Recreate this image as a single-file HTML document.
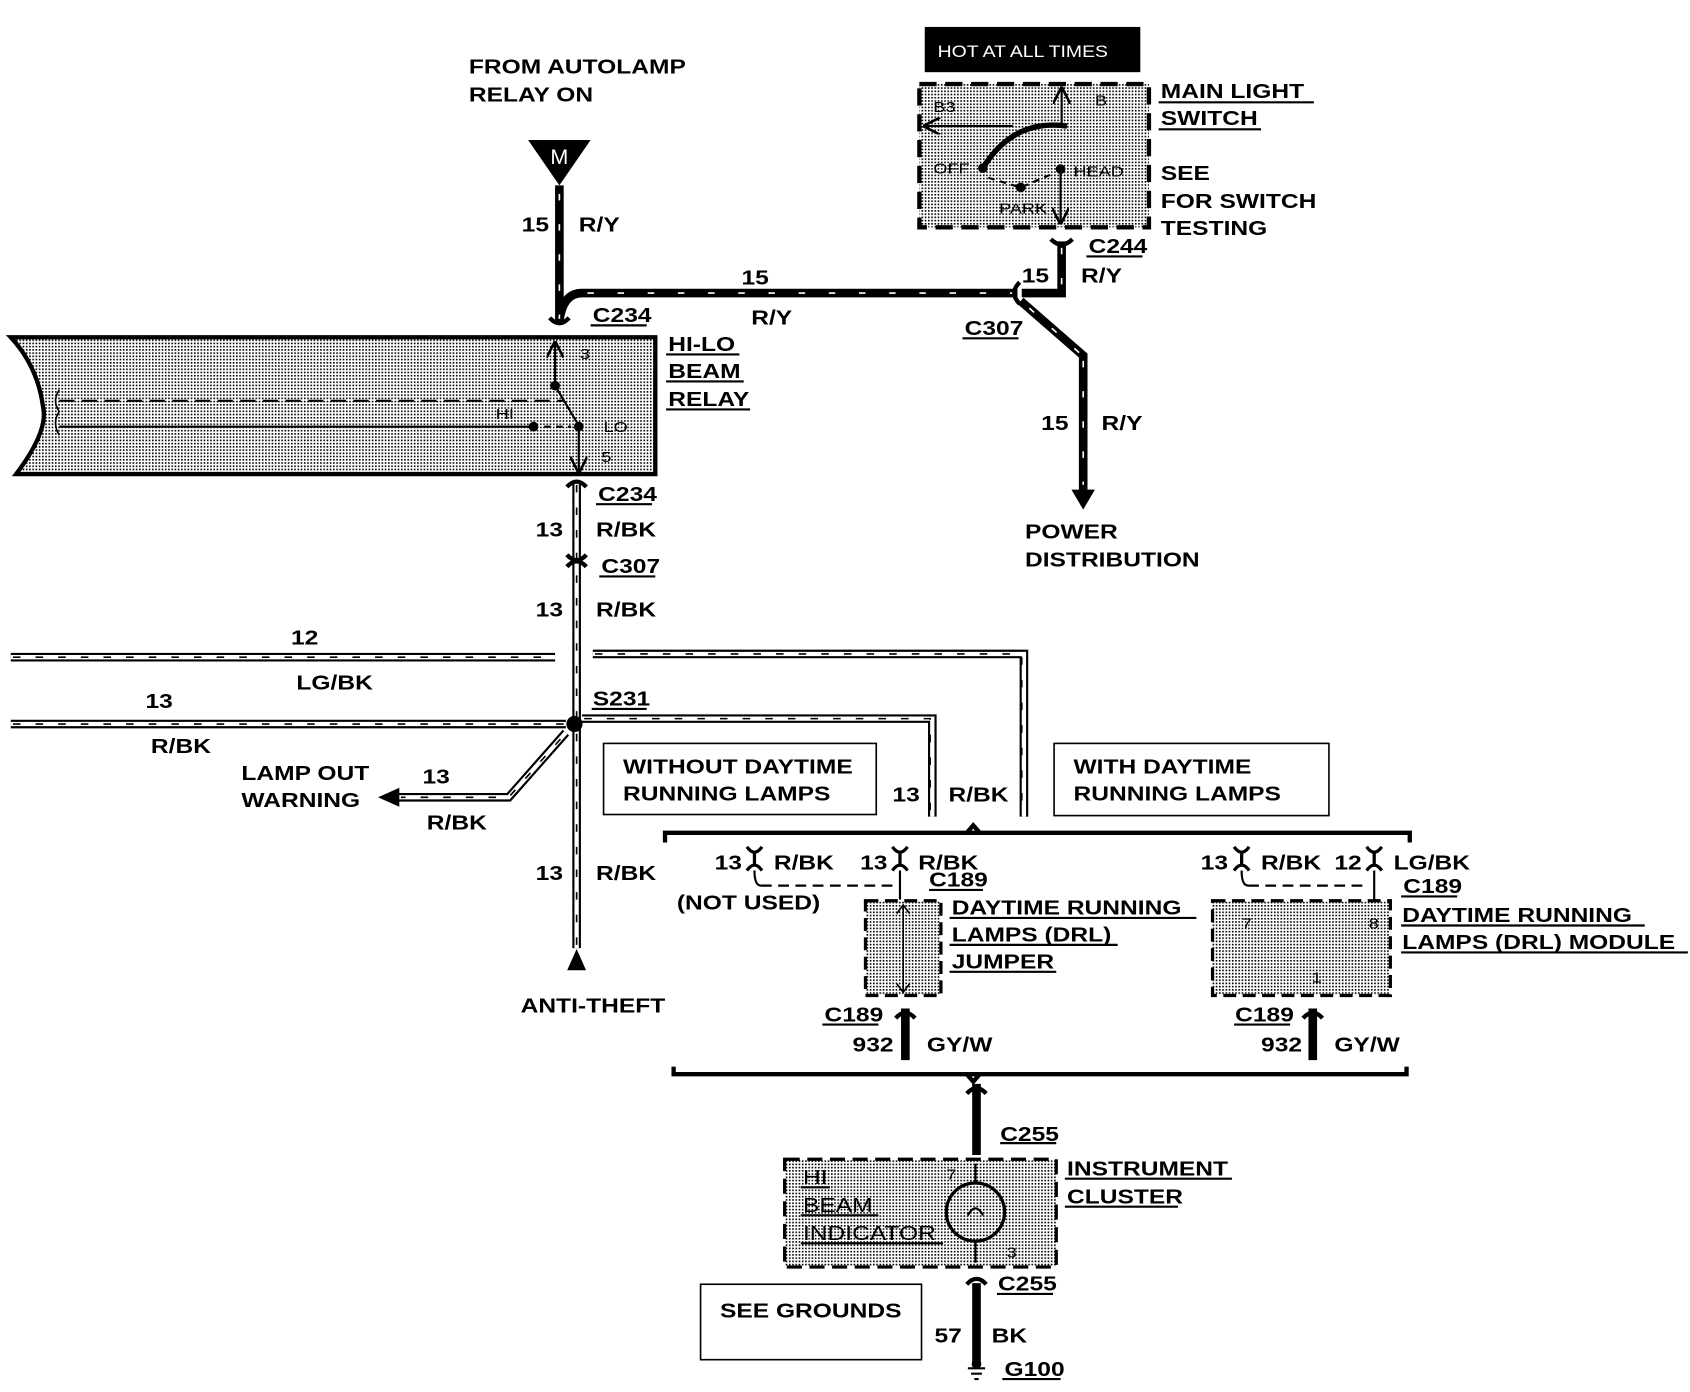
<!DOCTYPE html>
<html><head><meta charset="utf-8"><style>
html,body{margin:0;padding:0;background:#fff;}
svg{display:block;}
text{font-family:"Liberation Sans",sans-serif;font-weight:bold;font-size:19px;fill:#000;transform-box:fill-box;transform-origin:left center;transform:scaleX(1.2);}
.s{font-size:14px;font-weight:normal;}
.n{transform:none;}
</style></head><body>
<svg width="1690" height="1392" viewBox="0 0 1568 1292" preserveAspectRatio="none" xmlns="http://www.w3.org/2000/svg">
<defs>
<pattern id="st" width="3" height="3" patternUnits="userSpaceOnUse"><rect width="3" height="3" fill="#fff"/><rect width="1.5" height="1.5" fill="#000"/></pattern>
<marker id="ah" viewBox="0 0 10 10" refX="9" refY="5" markerWidth="8" markerHeight="8" orient="auto"><path d="M0,0L10,5L0,10" fill="none" stroke="#000" stroke-width="1.5"/></marker>
</defs>
<g fill="none" stroke="#000">
<g stroke-width="8" stroke-linecap="square">
<path d="M519,176 V298 Q522,272 540,272 H940"/>
<path d="M985,228 V272 H952"/>
<path d="M950,282 L1005,330 V455"/>
<path d="M906,1010 V1068"/>
<path d="M906,1195 V1262"/>
<path d="M840,940 V980"/>
<path d="M1218,940 V980"/>
</g>
<g stroke="#fff" stroke-width="1.5" stroke-dasharray="6 22">
<path d="M519,180 V296"/><path d="M545,272 H940"/><path d="M985,230 V270"/><path d="M1005,335 V450"/><path d="M955,286 L1002,328"/>
</g>
<path d="M995,455 L1005,472 L1015,455 Z" fill="#000"/>
<g stroke-width="8"><path d="M535,446 V880"/><path d="M10,610 H515"/><path d="M550,607 H950 V758"/><path d="M10,672 H525"/><path d="M540,667 H865 V758"/><path d="M525,680 L472,740 H370"/></g>
<g stroke="#fff" stroke-width="4"><path d="M535,446 V880"/><path d="M10,610 H515"/><path d="M550,607 H950 V758"/><path d="M10,672 H525"/><path d="M540,667 H865 V758"/><path d="M525,680 L472,740 H370"/></g>
<g stroke-width="1.5" stroke-dasharray="7 14"><path d="M535,450 V878"/><path d="M12,610 H515"/><path d="M552,607 H948 V756"/><path d="M12,672 H525"/><path d="M542,667 H863 V756"/><path d="M520,686 L472,740 H372"/></g>
<path d="M370,732 L352,740 L370,748 Z" fill="#000"/>
<path d="M527,900 L535,882 L543,900 Z" fill="#000"/>
<circle cx="533" cy="672" r="7" fill="#000"/>
<g stroke-width="4"><path d="M510,295 Q519,305 528,295"/><path d="M526,452 Q535,442 544,452"/><path d="M526,515 Q535,525 544,515"/><path d="M526,526 Q535,516 544,526"/><path d="M946,262 Q936,272 946,282"/><path d="M975,222 Q985,232 995,222"/>
<path d="M831,945 Q840,935 849,945"/><path d="M1209,945 Q1218,935 1227,945"/><path d="M897,1015 Q906,1005 915,1015"/><path d="M897,1192 Q906,1182 915,1192"/></g>
<g stroke-width="3"><path d="M693,786 Q700,796 707,786 M700,790 V803 M693,808 Q700,798 707,808"/><path d="M828,786 Q835,796 842,786 M835,790 V803 M828,808 Q835,798 842,808"/><path d="M1145,786 Q1152,796 1159,786 M1152,790 V803 M1145,808 Q1152,798 1159,808"/><path d="M1268,786 Q1275,796 1282,786 M1275,790 V803 M1268,808 Q1275,798 1282,808"/></g>
<path d="M706,822 H830 M1158,822 H1270" stroke-width="2" stroke-dasharray="10 6"/>
<path d="M700,808 Q700,822 706,822 M835,808 V835 M1152,808 Q1152,822 1158,822 M1275,808 V835" stroke-width="2"/>
<path d="M617,782 V773 H1308 V782 M897,773 L903,766 L909,773" stroke-width="4"/>
<path d="M625,990 V997 H1305 V990 M897,997 L903,1004 L909,997" stroke-width="4"/>
<path d="M10,313 H608 V440 H15 Q45,400 40,378 Q35,340 10,313 Z" fill="url(#st)" stroke-width="4"/>
<path d="M515,358 V318" stroke-width="2" marker-end="url(#ah)"/>
<path d="M515,358 L537,395 V438" stroke-width="2" marker-end="url(#ah)"/>
<path d="M55,372 H522" stroke-width="2" stroke-dasharray="14 7"/>
<path d="M55,396 H495" stroke-width="2"/>
<path d="M505,396 H530" stroke-width="2" stroke-dasharray="6 5"/>
<path d="M55,362 Q48,372 55,382 Q48,392 55,404" stroke-width="1.5"/>
<circle cx="515" cy="358" r="4" fill="#000"/><circle cx="537" cy="396" r="4" fill="#000"/><circle cx="495" cy="396" r="4" fill="#000"/>
<rect x="853" y="78" width="213" height="133" fill="url(#st)" stroke-width="4" stroke-dasharray="16 8"/>
<path d="M985,117 V82" stroke-width="2" marker-end="url(#ah)"/>
<path d="M940,117 H858" stroke-width="2" marker-end="url(#ah)"/>
<path d="M912,156 Q940,110 990,117" stroke-width="5"/>
<path d="M917,165 L947,174 L975,162" stroke-width="2" stroke-dasharray="6 5"/>
<path d="M984,157 V207" stroke-width="2" marker-end="url(#ah)"/>
<circle cx="912" cy="156" r="4" fill="#000"/><circle cx="984" cy="157" r="4" fill="#000"/><circle cx="947" cy="174" r="4" fill="#000"/>
<rect x="803" y="836" width="70" height="88" fill="url(#st)" stroke-width="3" stroke-dasharray="12 6"/>
<path d="M838,840 V921" stroke-width="1.5"/><path d="M832,848 L838,840 L844,848 M832,913 L838,921 L844,913" stroke-width="1.5"/>
<rect x="1125" y="836" width="165" height="88" fill="url(#st)" stroke-width="3" stroke-dasharray="12 6"/>
<rect x="728" y="1076" width="252" height="100" fill="url(#st)" stroke-width="3" stroke-dasharray="14 7"/>
<circle cx="905" cy="1125" r="27" stroke-width="3"/>
<path d="M905,1098 V1080 M905,1152 V1172" stroke-width="2"/>
<path d="M898,1128 Q905,1115 912,1128" stroke-width="2"/>
<rect x="560" y="690" width="253" height="66" stroke-width="1.5"/>
<rect x="978" y="690" width="255" height="67" stroke-width="1.5"/>
<rect x="650" y="1192" width="205" height="70" stroke-width="1.5"/>
<path d="M898,1270 H914 M901,1275 H911 M904,1280 H908" stroke-width="2"/>
<circle cx="906" cy="1266" r="4" fill="#000"/>
<g stroke-width="2"><path d="M548,302 H600 M893,314 H945 M1008,238 H1060 M553,468 H605 M556,535 H608 M549,658 H600 M618,329 H686 M618,354 H690 M618,380 H696 M1075,95 H1219 M1075,120 H1170 M862,826 H912 M1300,832 H1352 M881,852 H1110 M881,877 H1037 M881,902 H980 M1300,859 H1526 M1300,884 H1566 M763,951 H815 M1145,951 H1197 M928,1061 H980 M925,1201 H977 M930,1280 H984 M743,1102 H770 M743,1128 H815 M743,1154 H875 M988,1094 H1143 M988,1120 H1093"/></g>
</g>
<path d="M490,130 H548 L519,172 Z" fill="#000"/>
<text x="519" y="152" text-anchor="middle" class="n" style="fill:#fff;font-weight:normal;font-size:20px">M</text>
<rect x="858" y="25" width="200" height="42" fill="#000"/>
<text x="870" y="53" class="s" style="fill:#fff;font-size:15px">HOT AT ALL TIMES</text>
<text x="435" y="68">FROM AUTOLAMP</text><text x="435" y="94">RELAY ON</text>
<text x="484" y="215">15</text><text x="537" y="215">R/Y</text>
<text x="688" y="264">15</text><text x="697" y="301">R/Y</text>
<text x="550" y="299">C234</text><text x="895" y="311">C307</text>
<text x="948" y="262">15</text><text x="1003" y="262">R/Y</text><text x="1010" y="235">C244</text>
<text x="966" y="399">15</text><text x="1022" y="399">R/Y</text>
<text x="951" y="500">POWER</text><text x="951" y="526">DISTRIBUTION</text>
<text x="1077" y="91">MAIN LIGHT</text><text x="1077" y="116">SWITCH</text>
<text x="1077" y="167">SEE</text><text x="1077" y="193">FOR SWITCH</text><text x="1077" y="218">TESTING</text>
<text x="866" y="104" class="s">B3</text><text x="1016" y="98" class="s">B</text><text x="866" y="161" class="s">OFF</text><text x="996" y="164" class="s">HEAD</text><text x="927" y="198" class="s">PARK</text>
<text x="620" y="326">HI-LO</text><text x="620" y="351">BEAM</text><text x="620" y="377">RELAY</text>
<text x="538" y="333" class="s">3</text><text x="460" y="389" class="s">HI</text><text x="560" y="401" class="s">LO</text><text x="558" y="429" class="s">5</text>
<text x="555" y="465">C234</text><text x="497" y="498">13</text><text x="553" y="498">R/BK</text>
<text x="558" y="532">C307</text><text x="497" y="572">13</text><text x="553" y="572">R/BK</text>
<text x="270" y="598">12</text><text x="275" y="640">LG/BK</text>
<text x="135" y="657">13</text><text x="140" y="699">R/BK</text><text x="550" y="655">S231</text>
<text x="224" y="724">LAMP OUT</text><text x="224" y="749">WARNING</text><text x="392" y="727">13</text><text x="396" y="770">R/BK</text>
<text x="497" y="817">13</text><text x="553" y="817">R/BK</text><text x="483" y="940">ANTI-THEFT</text>
<text x="578" y="718">WITHOUT DAYTIME</text><text x="578" y="743">RUNNING LAMPS</text>
<text x="996" y="718">WITH DAYTIME</text><text x="996" y="743">RUNNING LAMPS</text>
<text x="828" y="744">13</text><text x="880" y="744">R/BK</text>
<text x="663" y="807">13</text><text x="718" y="807">R/BK</text><text x="798" y="807">13</text><text x="852" y="807">R/BK</text>
<text x="628" y="844">(NOT USED)</text><text x="862" y="823">C189</text>
<text x="1114" y="807">13</text><text x="1170" y="807">R/BK</text><text x="1238" y="807">12</text><text x="1293" y="807">LG/BK</text><text x="1302" y="829">C189</text>
<text x="883" y="849">DAYTIME RUNNING</text><text x="883" y="874">LAMPS (DRL)</text><text x="883" y="899">JUMPER</text>
<text x="1301" y="856">DAYTIME RUNNING</text><text x="1301" y="881">LAMPS (DRL) MODULE</text>
<text x="1152" y="862" class="s">7</text><text x="1270" y="862" class="s">8</text><text x="1217" y="912" class="s">1</text>
<text x="765" y="948">C189</text><text x="791" y="976">932</text><text x="860" y="976">GY/W</text>
<text x="1146" y="948">C189</text><text x="1170" y="976">932</text><text x="1238" y="976">GY/W</text>
<text x="928" y="1059">C255</text>
<text x="745" y="1099" style="font-weight:normal">HI</text><text x="745" y="1125" style="font-weight:normal">BEAM</text><text x="745" y="1151" style="font-weight:normal">INDICATOR</text>
<text x="878" y="1095" class="s">7</text><text x="934" y="1167" class="s">3</text>
<text x="990" y="1091">INSTRUMENT</text><text x="990" y="1117">CLUSTER</text>
<text x="926" y="1198">C255</text><text x="668" y="1223">SEE GROUNDS</text>
<text x="867" y="1246">57</text><text x="920" y="1246">BK</text><text x="932" y="1277">G100</text>
</svg>
</body></html>
